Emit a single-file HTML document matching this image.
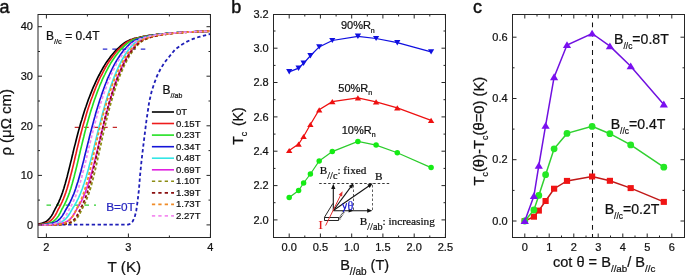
<!DOCTYPE html>
<html><head><meta charset="utf-8"><style>
html,body{margin:0;padding:0;background:#fff;}
svg{display:block;will-change:transform;}
</style></head><body>
<svg width="685" height="275" viewBox="0 0 685 275">
<defs><clipPath id="clipA"><rect x="38.0" y="14.5" width="172.5" height="223.0"/></clipPath></defs>
<rect width="685" height="275" fill="#fff"/>
<text x="-0.6" y="12.6" font-size="18" text-anchor="start" fill="#111" stroke="#111" stroke-width="0.45" style='font-family:"Liberation Sans", sans-serif' >a</text>
<text x="231.3" y="12.6" font-size="18" text-anchor="start" fill="#111" stroke="#111" stroke-width="0.45" style='font-family:"Liberation Sans", sans-serif' >b</text>
<text x="473" y="12.7" font-size="18" text-anchor="start" fill="#111" stroke="#111" stroke-width="0.45" style='font-family:"Liberation Sans", sans-serif' >c</text>
<g clip-path="url(#clipA)">
<path d="M102.8 49.1H145.5" stroke="#2b2bd0" stroke-width="1.2" stroke-dasharray="4.5 5" fill="none"/>
<path d="M74.7 127.3H117" stroke="#c42a2a" stroke-width="1.2" stroke-dasharray="4.5 5" fill="none"/>
<path d="M46.5 205.2H96" stroke="#30d030" stroke-width="1.2" stroke-dasharray="4.5 5" fill="none"/>
<path d="M38.6 224.7L128 224.7L130.6 223.8L132.6 221.5L134.6 217.5L136.2 211L137.5 202L138.9 190L140 176L141.6 160L144 140L146.5 120L149.2 102L151.5 92L154 84L157 76L160.5 69L164.5 62.5L169 57L175 49.6L181 45.1L187 41.6L193 38.9L199 36.9L205 35.3L210.5 34" stroke="#1f1fb8" stroke-width="1.8" fill="none" stroke-dasharray="3.4 2.5" stroke-linejoin="round"/>
<path d="M38.2 224.1L38.9 223.9L39.6 223.8L40.3 223.6L41 223.5L41.7 223.3L42.4 223.1L43 222.9L43.7 222.6L44.4 222.3L45.1 222L45.8 221.6L46.5 221.2L47.2 220.7L47.9 220.1L48.6 219.5L49.2 218.8L49.9 218L50.6 217.1L51.3 216.1L52 215L52.7 213.8L53.3 212.6L54 211.2L54.7 209.9L55.3 208.5L56 207.3L56.7 206.1L57.3 204.8L58 203.5L58.7 202.1L59.3 200.6L60 199.1L60.6 197.5L61.3 195.9L61.9 194.1L62.6 192.2L63.2 190.2L63.9 188.2L64.5 186L65.2 183.8L65.8 181.5L66.5 179.1L67.2 176.5L67.8 173.9L68.5 171.2L69.2 168.4L69.9 165.6L70.6 162.6L71.4 159.6L72.1 156.5L72.9 153.3L73.6 150.1L74.4 146.9L75.3 143.6L76.1 140.2L77 136.8L77.9 133.3L78.8 129.9L79.8 126.5L80.7 123.1L81.8 119.7L82.8 116.3L83.9 112.8L84.9 109.5L86.1 106.2L87.2 102.9L88.3 99.8L89.5 96.7L90.7 93.6L91.9 90.6L93.1 87.7L94.4 84.8L95.6 82.1L96.9 79.4L98.1 76.9L99.4 74.5L100.6 72.1L101.9 69.8L103.2 67.5L104.5 65.4L105.7 63.4L107 61.5L108.3 59.7L109.6 58L110.8 56.3L112.1 54.7L113.4 53.2L114.6 51.8L115.9 50.4L117.2 49.2L118.4 48L119.7 46.8L120.9 45.7L122.2 44.6L123.4 43.6L124.7 42.7L125.9 41.9L127.2 41.2L128.4 40.7L129.7 40.1L130.9 39.6L132.2 39.2L133.4 38.8L134.6 38.4L135.9 38.1L137.1 37.7L138.4 37.5L139.6 37.2L140.8 36.9L142.1 36.7L143.3 36.4L144.5 36.2L145.7 36L147 35.8L148.2 35.6L149.4 35.4L150.7 35.2L151.9 35.1L153.1 34.9L154.3 34.7L155.6 34.6L156.8 34.4L158 34.3L159.2 34.2L160.5 34L161.7 33.9L162.9 33.8L164.1 33.7L165.4 33.5L166.6 33.4L167.8 33.3L169 33.2L170.3 33.1L171.5 33L172.7 32.9L173.9 32.9L175.2 32.8L176.4 32.7L177.6 32.6L178.8 32.6L180.1 32.5L181.3 32.4L182.5 32.4L183.7 32.3L184.9 32.2L186.2 32.2L187.4 32.1L188.6 32.1L189.8 32L191.1 31.9L192.3 31.9L193.5 31.8L194.7 31.8L195.9 31.7L197.2 31.7L198.4 31.6L199.6 31.6L200.8 31.5L202.1 31.5L203.3 31.5L204.5 31.4L205.7 31.4L206.9 31.3L208.2 31.3L209.4 31.3" stroke="#000000" stroke-width="1.65" fill="none"/>
<path d="M38.2 224.5L38.9 224.4L39.6 224.4L40.3 224.3L41 224.2L41.7 224.1L42.4 223.9L43.1 223.8L43.8 223.6L44.5 223.5L45.1 223.3L45.8 223.1L46.5 222.9L47.2 222.6L47.9 222.3L48.6 222L49.3 221.6L49.9 221.2L50.6 220.7L51.3 220.1L52 219.5L52.7 218.8L53.3 218L54 217.1L54.7 216.1L55.4 215L56 213.8L56.7 212.6L57.4 211.2L58 209.9L58.7 208.5L59.4 207.3L60 206.1L60.7 204.8L61.3 203.5L62 202.1L62.6 200.6L63.3 199.1L63.9 197.5L64.6 195.9L65.2 194.1L65.9 192.2L66.5 190.2L67.2 188.2L67.8 186L68.5 183.8L69.1 181.5L69.8 179.1L70.4 176.5L71.1 173.9L71.8 171.2L72.5 168.4L73.2 165.6L73.9 162.6L74.6 159.6L75.3 156.5L76.1 153.3L76.8 150.1L77.6 146.9L78.4 143.6L79.2 140.2L80.1 136.8L81 133.3L81.9 129.9L82.8 126.5L83.8 123.1L84.8 119.7L85.8 116.3L86.8 112.8L87.8 109.5L88.9 106.2L90 102.9L91.1 99.8L92.3 96.7L93.4 93.6L94.6 90.6L95.7 87.7L96.9 84.8L98.1 82.1L99.3 79.4L100.5 76.9L101.8 74.5L103 72.1L104.2 69.8L105.4 67.5L106.7 65.4L107.9 63.4L109.1 61.5L110.3 59.7L111.6 58L112.8 56.3L114 54.7L115.2 53.2L116.4 51.8L117.7 50.4L118.9 49.2L120.1 48L121.3 46.8L122.5 45.7L123.7 44.6L124.9 43.6L126.1 42.7L127.3 41.9L128.5 41.2L129.7 40.7L130.9 40.1L132.1 39.6L133.3 39.2L134.5 38.8L135.7 38.4L136.9 38.1L138.1 37.7L139.3 37.5L140.5 37.2L141.7 36.9L142.9 36.7L144 36.4L145.2 36.2L146.4 36L147.6 35.8L148.8 35.6L150 35.4L151.2 35.2L152.3 35.1L153.5 34.9L154.7 34.7L155.9 34.6L157.1 34.4L158.2 34.3L159.4 34.2L160.6 34L161.8 33.9L163 33.8L164.1 33.7L165.3 33.5L166.5 33.4L167.7 33.3L168.9 33.2L170 33.1L171.2 33L172.4 32.9L173.6 32.9L174.8 32.8L175.9 32.7L177.1 32.6L178.3 32.6L179.5 32.5L180.7 32.4L181.8 32.4L183 32.3L184.2 32.2L185.4 32.2L186.6 32.1L187.7 32.1L188.9 32L190.1 31.9L191.3 31.9L192.4 31.8L193.6 31.8L194.8 31.7L196 31.7L197.2 31.6L198.3 31.6L199.5 31.5L200.7 31.5L201.9 31.5L203.1 31.4L204.2 31.4L205.4 31.3L206.6 31.3L207.8 31.3L208.9 31.2L210.1 31.2" stroke="#ee1c1c" stroke-width="1.65" fill="none"/>
<path d="M38.3 224.8L39 224.8L39.7 224.7L40.4 224.6L41.1 224.6L41.8 224.5L42.5 224.4L43.2 224.4L43.9 224.3L44.6 224.2L45.2 224.1L45.9 223.9L46.6 223.8L47.3 223.6L48 223.5L48.7 223.3L49.4 223.1L50.1 222.9L50.8 222.6L51.5 222.3L52.1 222L52.8 221.6L53.5 221.2L54.2 220.7L54.9 220.1L55.6 219.5L56.2 218.8L56.9 218L57.6 217.1L58.3 216.1L59 215L59.6 213.8L60.3 212.6L61 211.2L61.6 209.9L62.3 208.5L63 207.3L63.6 206.1L64.3 204.8L65 203.5L65.6 202.1L66.3 200.6L66.9 199.1L67.6 197.5L68.3 195.9L68.9 194.1L69.6 192.2L70.2 190.2L70.9 188.2L71.5 186L72.2 183.8L72.8 181.5L73.5 179.1L74.2 176.5L74.8 173.9L75.5 171.2L76.2 168.4L76.9 165.6L77.6 162.6L78.3 159.6L79 156.5L79.8 153.3L80.5 150.1L81.3 146.9L82.1 143.6L82.9 140.2L83.8 136.8L84.6 133.3L85.5 129.9L86.4 126.5L87.4 123.1L88.3 119.7L89.3 116.3L90.3 112.8L91.3 109.5L92.4 106.2L93.4 102.9L94.5 99.8L95.6 96.7L96.7 93.6L97.8 90.6L99 87.7L100.1 84.8L101.3 82.1L102.4 79.4L103.6 76.9L104.8 74.5L105.9 72.1L107.1 69.8L108.3 67.5L109.5 65.4L110.6 63.4L111.8 61.5L113 59.7L114.2 58L115.4 56.3L116.5 54.7L117.7 53.2L118.9 51.8L120 50.4L121.2 49.2L122.4 48L123.6 46.8L124.7 45.7L125.9 44.6L127 43.6L128.2 42.7L129.4 41.9L130.5 41.2L131.7 40.7L132.8 40.1L134 39.6L135.1 39.2L136.3 38.8L137.4 38.4L138.6 38.1L139.7 37.7L140.9 37.5L142 37.2L143.2 36.9L144.3 36.7L145.4 36.4L146.6 36.2L147.7 36L148.9 35.8L150 35.6L151.2 35.4L152.3 35.2L153.4 35.1L154.6 34.9L155.7 34.7L156.9 34.6L158 34.4L159.1 34.3L160.3 34.2L161.4 34L162.5 33.9L163.7 33.8L164.8 33.7L166 33.5L167.1 33.4L168.2 33.3L169.4 33.2L170.5 33.1L171.6 33L172.8 32.9L173.9 32.9L175 32.8L176.2 32.7L177.3 32.6L178.5 32.6L179.6 32.5L180.7 32.4L181.9 32.4L183 32.3L184.1 32.2L185.3 32.2L186.4 32.1L187.5 32.1L188.7 32L189.8 31.9L190.9 31.9L192.1 31.8L193.2 31.8L194.4 31.7L195.5 31.7L196.6 31.6L197.8 31.6L198.9 31.5L200 31.5L201.2 31.5L202.3 31.4L203.4 31.4L204.6 31.3L205.7 31.3L206.8 31.3L208 31.2L209.1 31.2L210.2 31.1" stroke="#22e022" stroke-width="1.65" fill="none"/>
<path d="M38.4 224.9L39.1 224.9L39.8 224.9L40.6 224.8L41.3 224.8L42.1 224.7L42.8 224.6L43.6 224.6L44.3 224.5L45.1 224.4L45.8 224.4L46.6 224.3L47.3 224.2L48 224.1L48.8 223.9L49.5 223.8L50.3 223.6L51 223.5L51.8 223.3L52.5 223.1L53.2 222.9L54 222.6L54.7 222.3L55.5 222L56.2 221.6L56.9 221.2L57.7 220.7L58.4 220.1L59.1 219.5L59.9 218.8L60.6 218L61.4 217.1L62.1 216.1L62.8 215L63.5 213.8L64.3 212.6L65 211.2L65.7 209.9L66.5 208.5L67.2 207.3L67.9 206.1L68.6 204.8L69.4 203.5L70.1 202.1L70.8 200.6L71.5 199.1L72.2 197.5L72.9 195.9L73.7 194.1L74.4 192.2L75.1 190.2L75.8 188.2L76.5 186L77.2 183.8L78 181.5L78.7 179.1L79.4 176.5L80.1 173.9L80.9 171.2L81.6 168.4L82.3 165.6L83.1 162.6L83.9 159.6L84.6 156.5L85.4 153.3L86.2 150.1L87 146.9L87.8 143.6L88.7 140.2L89.5 136.8L90.4 133.3L91.3 129.9L92.2 126.5L93.1 123.1L94 119.7L95 116.3L95.9 112.8L96.9 109.5L97.9 106.2L98.9 102.9L99.9 99.8L101 96.7L102 93.6L103.1 90.6L104.1 87.7L105.2 84.8L106.3 82.1L107.3 79.4L108.4 76.9L109.5 74.5L110.6 72.1L111.7 69.8L112.8 67.5L113.9 65.4L115 63.4L116.1 61.5L117.2 59.7L118.3 58L119.4 56.3L120.4 54.7L121.5 53.2L122.6 51.8L123.7 50.4L124.8 49.2L125.9 48L127 46.8L128.1 45.7L129.1 44.6L130.2 43.6L131.3 42.7L132.4 41.9L133.4 41.2L134.5 40.7L135.6 40.1L136.7 39.6L137.7 39.2L138.8 38.8L139.9 38.4L141 38.1L142 37.7L143.1 37.5L144.2 37.2L145.2 36.9L146.3 36.7L147.4 36.4L148.4 36.2L149.5 36L150.6 35.8L151.6 35.6L152.7 35.4L153.8 35.2L154.8 35.1L155.9 34.9L157 34.7L158 34.6L159.1 34.4L160.2 34.3L161.2 34.2L162.3 34L163.4 33.9L164.4 33.8L165.5 33.7L166.6 33.5L167.6 33.4L168.7 33.3L169.7 33.2L170.8 33.1L171.9 33L172.9 32.9L174 32.9L175.1 32.8L176.1 32.7L177.2 32.6L178.2 32.6L179.3 32.5L180.4 32.4L181.4 32.4L182.5 32.3L183.6 32.2L184.6 32.2L185.7 32.1L186.7 32.1L187.8 32L188.9 31.9L189.9 31.9L191 31.8L192.1 31.8L193.1 31.7L194.2 31.7L195.2 31.6L196.3 31.6L197.4 31.5L198.4 31.5L199.5 31.5L200.6 31.4L201.6 31.4L202.7 31.3L203.7 31.3L204.8 31.3L205.9 31.2L206.9 31.2L208 31.1L209.1 31.1L210.1 31.1" stroke="#1414d8" stroke-width="1.65" fill="none"/>
<path d="M38.5 224.9L43.2 224.9L44 224.9L44.8 224.9L45.5 224.8L46.3 224.8L47.1 224.7L47.9 224.6L48.6 224.6L49.4 224.5L50.2 224.4L51 224.4L51.7 224.3L52.5 224.2L53.3 224.1L54.1 223.9L54.8 223.8L55.6 223.6L56.4 223.5L57.2 223.3L57.9 223.1L58.7 222.9L59.5 222.6L60.3 222.3L61 222L61.8 221.6L62.6 221.2L63.4 220.7L64.1 220.1L64.9 219.5L65.7 218.8L66.4 218L67.2 217.1L68 216.1L68.7 215L69.5 213.8L70.3 212.6L71 211.2L71.8 209.9L72.6 208.5L73.3 207.3L74.1 206.1L74.9 204.8L75.6 203.5L76.4 202.1L77.1 200.6L77.9 199.1L78.7 197.5L79.4 195.9L80.2 194.1L80.9 192.2L81.7 190.2L82.5 188.2L83.2 186L84 183.8L84.7 181.5L85.5 179.1L86.3 176.5L87 173.9L87.8 171.2L88.6 168.4L89.3 165.6L90.1 162.6L90.9 159.6L91.7 156.5L92.5 153.3L93.3 150.1L94.1 146.9L94.9 143.6L95.8 140.2L96.6 136.8L97.5 133.3L98.3 129.9L99.2 126.5L100.1 123.1L101 119.7L101.9 116.3L102.8 112.8L103.7 109.5L104.6 106.2L105.5 102.9L106.5 99.8L107.4 96.7L108.4 93.6L109.4 90.6L110.3 87.7L111.3 84.8L112.3 82.1L113.3 79.4L114.2 76.9L115.2 74.5L116.2 72.1L117.2 69.8L118.2 67.5L119.2 65.4L120.2 63.4L121.2 61.5L122.1 59.7L123.1 58L124.1 56.3L125.1 54.7L126.1 53.2L127.1 51.8L128.1 50.4L129 49.2L130 48L131 46.8L132 45.7L133 44.6L134 43.6L134.9 42.7L135.9 41.9L136.9 41.2L137.9 40.7L138.8 40.1L139.8 39.6L140.8 39.2L141.8 38.8L142.8 38.4L143.7 38.1L144.7 37.7L145.7 37.5L146.6 37.2L147.6 36.9L148.6 36.7L149.6 36.4L150.5 36.2L151.5 36L152.5 35.8L153.5 35.6L154.4 35.4L155.4 35.2L156.4 35.1L157.3 34.9L158.3 34.7L159.3 34.6L160.3 34.4L161.2 34.3L162.2 34.2L163.2 34L164.1 33.9L165.1 33.8L166.1 33.7L167 33.5L168 33.4L169 33.3L170 33.2L170.9 33.1L171.9 33L172.9 32.9L173.8 32.9L174.8 32.8L175.8 32.7L176.7 32.6L177.7 32.6L178.7 32.5L179.7 32.4L180.6 32.4L181.6 32.3L182.6 32.2L183.5 32.2L184.5 32.1L185.5 32.1L186.4 32L187.4 31.9L188.4 31.9L189.3 31.8L190.3 31.8L191.3 31.7L192.3 31.7L193.2 31.6L194.2 31.6L195.2 31.5L196.1 31.5L197.1 31.5L198.1 31.4L199 31.4L200 31.3L201 31.3L201.9 31.3L202.9 31.2L203.9 31.2L204.9 31.1L205.8 31.1L206.8 31.1L207.8 31L208.7 31L209.7 31" stroke="#33e6e6" stroke-width="1.65" fill="none"/>
<path d="M38.5 224.9L48.4 224.9L49.2 224.9L49.9 224.9L50.7 224.8L51.5 224.8L52.2 224.7L53 224.6L53.7 224.6L54.5 224.5L55.2 224.4L56 224.4L56.8 224.3L57.5 224.2L58.3 224.1L59 223.9L59.8 223.8L60.5 223.6L61.3 223.5L62.1 223.3L62.8 223.1L63.6 222.9L64.3 222.6L65.1 222.3L65.8 222L66.6 221.6L67.3 221.2L68.1 220.7L68.9 220.1L69.6 219.5L70.4 218.8L71.1 218L71.9 217.1L72.6 216.1L73.4 215L74.1 213.8L74.9 212.6L75.6 211.2L76.4 209.9L77.1 208.5L77.9 207.3L78.6 206.1L79.3 204.8L80.1 203.5L80.8 202.1L81.6 200.6L82.3 199.1L83.1 197.5L83.8 195.9L84.5 194.1L85.3 192.2L86 190.2L86.8 188.2L87.5 186L88.2 183.8L89 181.5L89.7 179.1L90.5 176.5L91.2 173.9L92 171.2L92.7 168.4L93.5 165.6L94.3 162.6L95 159.6L95.8 156.5L96.6 153.3L97.4 150.1L98.1 146.9L98.9 143.6L99.8 140.2L100.6 136.8L101.4 133.3L102.2 129.9L103.1 126.5L103.9 123.1L104.8 119.7L105.7 116.3L106.6 112.8L107.5 109.5L108.4 106.2L109.3 102.9L110.2 99.8L111.1 96.7L112.1 93.6L113 90.6L113.9 87.7L114.9 84.8L115.8 82.1L116.8 79.4L117.7 76.9L118.7 74.5L119.6 72.1L120.6 69.8L121.6 67.5L122.5 65.4L123.5 63.4L124.4 61.5L125.4 59.7L126.4 58L127.3 56.3L128.3 54.7L129.2 53.2L130.2 51.8L131.1 50.4L132.1 49.2L133.1 48L134 46.8L135 45.7L135.9 44.6L136.9 43.6L137.8 42.7L138.8 41.9L139.7 41.2L140.7 40.7L141.6 40.1L142.6 39.6L143.5 39.2L144.5 38.8L145.4 38.4L146.4 38.1L147.3 37.7L148.2 37.5L149.2 37.2L150.1 36.9L151.1 36.7L152 36.4L153 36.2L153.9 36L154.9 35.8L155.8 35.6L156.7 35.4L157.7 35.2L158.6 35.1L159.6 34.9L160.5 34.7L161.5 34.6L162.4 34.4L163.3 34.3L164.3 34.2L165.2 34L166.2 33.9L167.1 33.8L168.1 33.7L169 33.5L169.9 33.4L170.9 33.3L171.8 33.2L172.8 33.1L173.7 33L174.7 32.9L175.6 32.9L176.5 32.8L177.5 32.7L178.4 32.6L179.4 32.6L180.3 32.5L181.2 32.4L182.2 32.4L183.1 32.3L184.1 32.2L185 32.2L186 32.1L186.9 32.1L187.8 32L188.8 31.9L189.7 31.9L190.7 31.8L191.6 31.8L192.5 31.7L193.5 31.7L194.4 31.6L195.4 31.6L196.3 31.5L197.3 31.5L198.2 31.5L199.1 31.4L200.1 31.4L201 31.3L202 31.3L202.9 31.3L203.8 31.2L204.8 31.2L205.7 31.1L206.7 31.1L207.6 31.1L208.5 31L209.5 31L210.4 31" stroke="#e020e0" stroke-width="1.65" fill="none"/>
<path d="M38.5 224.9L57.5 224.9L58.2 224.9L58.9 224.9L59.5 224.8L60.2 224.8L60.8 224.7L61.5 224.6L62.1 224.6L62.8 224.5L63.4 224.4L64.1 224.4L64.7 224.3L65.4 224.2L66.1 224.1L66.7 223.9L67.4 223.8L68 223.6L68.7 223.5L69.3 223.3L70 223.1L70.6 222.9L71.3 222.6L71.9 222.3L72.6 222L73.2 221.6L73.9 221.2L74.5 220.7L75.2 220.1L75.8 219.5L76.5 218.8L77.1 218L77.8 217.1L78.4 216.1L79.1 215L79.7 213.8L80.3 212.6L81 211.2L81.6 209.9L82.3 208.5L82.9 207.3L83.5 206.1L84.2 204.8L84.8 203.5L85.4 202.1L86.1 200.6L86.7 199.1L87.3 197.5L88 195.9L88.6 194.1L89.2 192.2L89.8 190.2L90.5 188.2L91.1 186L91.7 183.8L92.4 181.5L93 179.1L93.6 176.5L94.3 173.9L94.9 171.2L95.6 168.4L96.2 165.6L96.9 162.6L97.5 159.6L98.2 156.5L98.9 153.3L99.6 150.1L100.3 146.9L101.1 143.6L101.8 140.2L102.5 136.8L103.3 133.3L104.1 129.9L104.9 126.5L105.7 123.1L106.5 119.7L107.4 116.3L108.3 112.8L109.1 109.5L110 106.2L110.9 102.9L111.8 99.8L112.8 96.7L113.7 93.6L114.6 90.6L115.6 87.7L116.5 84.8L117.5 82.1L118.5 79.4L119.4 76.9L120.4 74.5L121.4 72.1L122.4 69.8L123.3 67.5L124.3 65.4L125.3 63.4L126.3 61.5L127.3 59.7L128.2 58L129.2 56.3L130.2 54.7L131.2 53.2L132.2 51.8L133.1 50.4L134.1 49.2L135.1 48L136.1 46.8L137 45.7L138 44.6L139 43.6L139.9 42.7L140.9 41.9L141.9 41.2L142.8 40.7L143.8 40.1L144.8 39.6L145.7 39.2L146.7 38.8L147.6 38.4L148.6 38.1L149.6 37.7L150.5 37.5L151.5 37.2L152.4 36.9L153.4 36.7L154.3 36.4L155.3 36.2L156.3 36L157.2 35.8L158.2 35.6L159.1 35.4L160.1 35.2L161 35.1L162 34.9L162.9 34.7L163.9 34.6L164.8 34.4L165.8 34.3L166.8 34.2L167.7 34L168.7 33.9L169.6 33.8L170.6 33.7L171.5 33.5L172.5 33.4L173.4 33.3L174.4 33.2L175.3 33.1L176.3 33L177.2 32.9L178.2 32.9L179.1 32.8L180.1 32.7L181 32.6L182 32.6L182.9 32.5L183.9 32.4L184.8 32.4L185.8 32.3L186.7 32.2L187.7 32.2L188.6 32.1L189.6 32.1L190.6 32L191.5 31.9L192.5 31.9L193.4 31.8L194.4 31.8L195.3 31.7L196.3 31.7L197.2 31.6L198.2 31.6L199.1 31.5L200.1 31.5L201 31.5L202 31.4L202.9 31.4L203.9 31.3L204.8 31.3L205.8 31.3L206.7 31.2L207.7 31.2L208.6 31.1L209.6 31.1" stroke="#8c8c14" stroke-width="1.8" fill="none" stroke-dasharray="3.0 2.1"/>
<path d="M38.5 224.9L56 224.9L56.7 224.9L57.3 224.9L58 224.8L58.6 224.8L59.3 224.7L59.9 224.6L60.6 224.6L61.2 224.5L61.9 224.4L62.5 224.4L63.2 224.3L63.8 224.2L64.5 224.1L65.1 223.9L65.8 223.8L66.4 223.6L67.1 223.5L67.7 223.3L68.4 223.1L69 222.9L69.7 222.6L70.3 222.3L70.9 222L71.6 221.6L72.2 221.2L72.9 220.7L73.5 220.1L74.2 219.5L74.8 218.8L75.4 218L76.1 217.1L76.7 216.1L77.3 215L78 213.8L78.6 212.6L79.2 211.2L79.9 209.9L80.5 208.5L81.1 207.3L81.8 206.1L82.4 204.8L83 203.5L83.6 202.1L84.3 200.6L84.9 199.1L85.5 197.5L86.1 195.9L86.7 194.1L87.4 192.2L88 190.2L88.6 188.2L89.2 186L89.8 183.8L90.5 181.5L91.1 179.1L91.7 176.5L92.3 173.9L93 171.2L93.6 168.4L94.3 165.6L94.9 162.6L95.6 159.6L96.3 156.5L97 153.3L97.7 150.1L98.4 146.9L99.1 143.6L99.8 140.2L100.6 136.8L101.4 133.3L102.2 129.9L103 126.5L103.8 123.1L104.7 119.7L105.5 116.3L106.4 112.8L107.3 109.5L108.2 106.2L109.1 102.9L110.1 99.8L111 96.7L112 93.6L113 90.6L113.9 87.7L114.9 84.8L115.9 82.1L116.9 79.4L117.9 76.9L118.9 74.5L119.9 72.1L120.9 69.8L121.9 67.5L123 65.4L124 63.4L125 61.5L126 59.7L127 58L128 56.3L129 54.7L130 53.2L131 51.8L132.1 50.4L133.1 49.2L134.1 48L135.1 46.8L136.1 45.7L137.1 44.6L138.1 43.6L139.1 42.7L140.1 41.9L141.1 41.2L142.1 40.7L143 40.1L144 39.6L145 39.2L146 38.8L147 38.4L148 38.1L149 37.7L150 37.5L151 37.2L152 36.9L152.9 36.7L153.9 36.4L154.9 36.2L155.9 36L156.9 35.8L157.9 35.6L158.9 35.4L159.8 35.2L160.8 35.1L161.8 34.9L162.8 34.7L163.8 34.6L164.7 34.4L165.7 34.3L166.7 34.2L167.7 34L168.7 33.9L169.7 33.8L170.6 33.7L171.6 33.5L172.6 33.4L173.6 33.3L174.6 33.2L175.5 33.1L176.5 33L177.5 32.9L178.5 32.9L179.5 32.8L180.4 32.7L181.4 32.6L182.4 32.6L183.4 32.5L184.4 32.4L185.4 32.4L186.3 32.3L187.3 32.2L188.3 32.2L189.3 32.1L190.3 32.1L191.2 32L192.2 31.9L193.2 31.9L194.2 31.8L195.2 31.8L196.1 31.7L197.1 31.7L198.1 31.6L199.1 31.6L200.1 31.5L201 31.5L202 31.5L203 31.4L204 31.4L205 31.3L205.9 31.3L206.9 31.3L207.9 31.2L208.9 31.2L209.9 31.1" stroke="#8a1010" stroke-width="1.8" fill="none" stroke-dasharray="3.0 2.1"/>
<path d="M38.5 224.9L51.4 224.9L52.1 224.9L52.8 224.9L53.5 224.8L54.1 224.8L54.8 224.7L55.5 224.6L56.1 224.6L56.8 224.5L57.5 224.4L58.2 224.4L58.8 224.3L59.5 224.2L60.2 224.1L60.9 223.9L61.5 223.8L62.2 223.6L62.9 223.5L63.5 223.3L64.2 223.1L64.9 222.9L65.6 222.6L66.2 222.3L66.9 222L67.6 221.6L68.2 221.2L68.9 220.7L69.6 220.1L70.2 219.5L70.9 218.8L71.6 218L72.2 217.1L72.9 216.1L73.5 215L74.2 213.8L74.9 212.6L75.5 211.2L76.2 209.9L76.8 208.5L77.5 207.3L78.1 206.1L78.8 204.8L79.4 203.5L80.1 202.1L80.7 200.6L81.4 199.1L82 197.5L82.7 195.9L83.3 194.1L83.9 192.2L84.6 190.2L85.2 188.2L85.9 186L86.5 183.8L87.2 181.5L87.8 179.1L88.5 176.5L89.1 173.9L89.8 171.2L90.4 168.4L91.1 165.6L91.8 162.6L92.5 159.6L93.2 156.5L93.9 153.3L94.6 150.1L95.4 146.9L96.1 143.6L96.9 140.2L97.7 136.8L98.5 133.3L99.3 129.9L100.1 126.5L101 123.1L101.9 119.7L102.7 116.3L103.7 112.8L104.6 109.5L105.5 106.2L106.5 102.9L107.4 99.8L108.4 96.7L109.4 93.6L110.4 90.6L111.4 87.7L112.4 84.8L113.4 82.1L114.5 79.4L115.5 76.9L116.5 74.5L117.6 72.1L118.6 69.8L119.6 67.5L120.7 65.4L121.7 63.4L122.8 61.5L123.8 59.7L124.8 58L125.9 56.3L126.9 54.7L127.9 53.2L129 51.8L130 50.4L131.1 49.2L132.1 48L133.1 46.8L134.1 45.7L135.2 44.6L136.2 43.6L137.2 42.7L138.3 41.9L139.3 41.2L140.3 40.7L141.3 40.1L142.3 39.6L143.4 39.2L144.4 38.8L145.4 38.4L146.4 38.1L147.4 37.7L148.4 37.5L149.5 37.2L150.5 36.9L151.5 36.7L152.5 36.4L153.5 36.2L154.5 36L155.5 35.8L156.6 35.6L157.6 35.4L158.6 35.2L159.6 35.1L160.6 34.9L161.6 34.7L162.6 34.6L163.6 34.4L164.6 34.3L165.7 34.2L166.7 34L167.7 33.9L168.7 33.8L169.7 33.7L170.7 33.5L171.7 33.4L172.7 33.3L173.7 33.2L174.7 33.1L175.7 33L176.7 32.9L177.8 32.9L178.8 32.8L179.8 32.7L180.8 32.6L181.8 32.6L182.8 32.5L183.8 32.4L184.8 32.4L185.8 32.3L186.8 32.2L187.8 32.2L188.8 32.1L189.9 32.1L190.9 32L191.9 31.9L192.9 31.9L193.9 31.8L194.9 31.8L195.9 31.7L196.9 31.7L197.9 31.6L198.9 31.6L199.9 31.5L200.9 31.5L202 31.5L203 31.4L204 31.4L205 31.3L206 31.3L207 31.3L208 31.2L209 31.2L210 31.1" stroke="#f08c28" stroke-width="1.8" fill="none" stroke-dasharray="3.0 2.1"/>
<path d="M38.5 224.9L42.9 224.9L43.6 224.9L44.3 224.9L45.1 224.8L45.8 224.8L46.5 224.7L47.2 224.6L47.9 224.6L48.6 224.5L49.3 224.4L50 224.4L50.7 224.3L51.4 224.2L52.1 224.1L52.8 223.9L53.5 223.8L54.3 223.6L55 223.5L55.7 223.3L56.4 223.1L57.1 222.9L57.8 222.6L58.5 222.3L59.2 222L59.9 221.6L60.6 221.2L61.3 220.7L62 220.1L62.7 219.5L63.4 218.8L64.1 218L64.8 217.1L65.5 216.1L66.2 215L66.9 213.8L67.6 212.6L68.2 211.2L68.9 209.9L69.6 208.5L70.3 207.3L71 206.1L71.7 204.8L72.4 203.5L73 202.1L73.7 200.6L74.4 199.1L75.1 197.5L75.7 195.9L76.4 194.1L77.1 192.2L77.8 190.2L78.5 188.2L79.1 186L79.8 183.8L80.5 181.5L81.2 179.1L81.9 176.5L82.5 173.9L83.2 171.2L83.9 168.4L84.6 165.6L85.4 162.6L86.1 159.6L86.8 156.5L87.6 153.3L88.3 150.1L89.1 146.9L89.9 143.6L90.7 140.2L91.5 136.8L92.4 133.3L93.2 129.9L94.1 126.5L95 123.1L95.9 119.7L96.9 116.3L97.8 112.8L98.8 109.5L99.8 106.2L100.8 102.9L101.8 99.8L102.8 96.7L103.9 93.6L104.9 90.6L106 87.7L107 84.8L108.1 82.1L109.2 79.4L110.3 76.9L111.4 74.5L112.5 72.1L113.5 69.8L114.6 67.5L115.7 65.4L116.8 63.4L117.9 61.5L119 59.7L120.1 58L121.2 56.3L122.3 54.7L123.4 53.2L124.5 51.8L125.6 50.4L126.7 49.2L127.7 48L128.8 46.8L129.9 45.7L131 44.6L132.1 43.6L133.2 42.7L134.2 41.9L135.3 41.2L136.4 40.7L137.5 40.1L138.5 39.6L139.6 39.2L140.7 38.8L141.8 38.4L142.8 38.1L143.9 37.7L145 37.5L146 37.2L147.1 36.9L148.2 36.7L149.2 36.4L150.3 36.2L151.4 36L152.4 35.8L153.5 35.6L154.6 35.4L155.6 35.2L156.7 35.1L157.8 34.9L158.8 34.7L159.9 34.6L160.9 34.4L162 34.3L163.1 34.2L164.1 34L165.2 33.9L166.3 33.8L167.3 33.7L168.4 33.5L169.4 33.4L170.5 33.3L171.6 33.2L172.6 33.1L173.7 33L174.7 32.9L175.8 32.9L176.9 32.8L177.9 32.7L179 32.6L180.1 32.6L181.1 32.5L182.2 32.4L183.2 32.4L184.3 32.3L185.4 32.2L186.4 32.2L187.5 32.1L188.5 32.1L189.6 32L190.7 31.9L191.7 31.9L192.8 31.8L193.8 31.8L194.9 31.7L196 31.7L197 31.6L198.1 31.6L199.1 31.5L200.2 31.5L201.3 31.5L202.3 31.4L203.4 31.4L204.4 31.3L205.5 31.3L206.6 31.3L207.6 31.2L208.7 31.2L209.7 31.1" stroke="#f48cf0" stroke-width="1.8" fill="none" stroke-dasharray="3.0 2.1"/>
</g>
<path d="M151.9 112H174" stroke="#000000" stroke-width="1.6" fill="none"/>
<text x="176" y="114.9" font-size="9.6" text-anchor="start" fill="#111" stroke="#111" stroke-width="0.22" style='font-family:"Liberation Sans", sans-serif' >0T</text>
<path d="M151.9 123.5H174" stroke="#ee1c1c" stroke-width="1.6" fill="none"/>
<text x="176" y="126.5" font-size="9.6" text-anchor="start" fill="#111" stroke="#111" stroke-width="0.22" style='font-family:"Liberation Sans", sans-serif' >0.15T</text>
<path d="M151.9 135.1H174" stroke="#22e022" stroke-width="1.6" fill="none"/>
<text x="176" y="138" font-size="9.6" text-anchor="start" fill="#111" stroke="#111" stroke-width="0.22" style='font-family:"Liberation Sans", sans-serif' >0.23T</text>
<path d="M151.9 146.7H174" stroke="#1414d8" stroke-width="1.6" fill="none"/>
<text x="176" y="149.6" font-size="9.6" text-anchor="start" fill="#111" stroke="#111" stroke-width="0.22" style='font-family:"Liberation Sans", sans-serif' >0.34T</text>
<path d="M151.9 158.2H174" stroke="#33e6e6" stroke-width="1.6" fill="none"/>
<text x="176" y="161.1" font-size="9.6" text-anchor="start" fill="#111" stroke="#111" stroke-width="0.22" style='font-family:"Liberation Sans", sans-serif' >0.48T</text>
<path d="M151.9 169.8H174" stroke="#e020e0" stroke-width="1.6" fill="none"/>
<text x="176" y="172.7" font-size="9.6" text-anchor="start" fill="#111" stroke="#111" stroke-width="0.22" style='font-family:"Liberation Sans", sans-serif' >0.69T</text>
<path d="M151.9 181.3H174" stroke="#8c8c14" stroke-width="1.6" fill="none" stroke-dasharray="3.3 3.1"/>
<text x="176" y="184.2" font-size="9.6" text-anchor="start" fill="#111" stroke="#111" stroke-width="0.22" style='font-family:"Liberation Sans", sans-serif' >1.10T</text>
<path d="M151.9 192.9H174" stroke="#8a1010" stroke-width="1.6" fill="none" stroke-dasharray="3.3 3.1"/>
<text x="176" y="195.8" font-size="9.6" text-anchor="start" fill="#111" stroke="#111" stroke-width="0.22" style='font-family:"Liberation Sans", sans-serif' >1.39T</text>
<path d="M151.9 204.4H174" stroke="#f08c28" stroke-width="1.6" fill="none" stroke-dasharray="3.3 3.1"/>
<text x="176" y="207.3" font-size="9.6" text-anchor="start" fill="#111" stroke="#111" stroke-width="0.22" style='font-family:"Liberation Sans", sans-serif' >1.73T</text>
<path d="M151.9 215.9H174" stroke="#f48cf0" stroke-width="1.6" fill="none" stroke-dasharray="3.3 3.1"/>
<text x="176" y="218.8" font-size="9.6" text-anchor="start" fill="#111" stroke="#111" stroke-width="0.22" style='font-family:"Liberation Sans", sans-serif' >2.27T</text>
<text x="162.6" y="93.6" font-size="12" text-anchor="start" fill="#111" stroke="#111" stroke-width="0.22" style='font-family:"Liberation Sans", sans-serif' >B<tspan font-size="7" dy="4.1">//ab</tspan></text>
<text x="45.9" y="39.8" font-size="12" text-anchor="start" fill="#111" stroke="#111" stroke-width="0.22" style='font-family:"Liberation Sans", sans-serif' >B<tspan font-size="7.5" dy="4.3">//c</tspan><tspan dy="-4.3"> = 0.4T</tspan></text>
<text x="106.2" y="210.5" font-size="11.8" text-anchor="start" fill="#2424c0" stroke="#2424c0" stroke-width="0.22" style='font-family:"Liberation Sans", sans-serif' >B=0T</text>
<path d="M46.4 237.5v-4M46.4 14.5v4M128.4 237.5v-4M128.4 14.5v4M210.4 237.5v-4M210.4 14.5v4M87.4 237.5v-2M87.4 14.5v2M169.4 237.5v-2M169.4 14.5v2M38 224.9h4M210.5 224.9h-4M38 175.4h4M210.5 175.4h-4M38 125.8h4M210.5 125.8h-4M38 76.2h4M210.5 76.2h-4M38 26.7h4M210.5 26.7h-4M38 200.1h2M210.5 200.1h-2M38 150.6h2M210.5 150.6h-2M38 101h2M210.5 101h-2M38 51.5h2M210.5 51.5h-2" stroke="#262626" stroke-width="1" fill="none"/>
<rect x="38" y="14.5" width="172.5" height="223" fill="none" stroke="#262626" stroke-width="1"/>
<text x="33" y="228.6" font-size="11" text-anchor="end" fill="#111" stroke="#111" stroke-width="0.22" style='font-family:"Liberation Sans", sans-serif' >0</text>
<text x="33" y="179.1" font-size="11" text-anchor="end" fill="#111" stroke="#111" stroke-width="0.22" style='font-family:"Liberation Sans", sans-serif' >10</text>
<text x="33" y="129.5" font-size="11" text-anchor="end" fill="#111" stroke="#111" stroke-width="0.22" style='font-family:"Liberation Sans", sans-serif' >20</text>
<text x="33" y="80" font-size="11" text-anchor="end" fill="#111" stroke="#111" stroke-width="0.22" style='font-family:"Liberation Sans", sans-serif' >30</text>
<text x="33" y="30.4" font-size="11" text-anchor="end" fill="#111" stroke="#111" stroke-width="0.22" style='font-family:"Liberation Sans", sans-serif' >40</text>
<text x="46.4" y="250.6" font-size="11" text-anchor="middle" fill="#111" stroke="#111" stroke-width="0.22" style='font-family:"Liberation Sans", sans-serif' >2</text>
<text x="128.4" y="250.6" font-size="11" text-anchor="middle" fill="#111" stroke="#111" stroke-width="0.22" style='font-family:"Liberation Sans", sans-serif' >3</text>
<text x="210.4" y="250.6" font-size="11" text-anchor="middle" fill="#111" stroke="#111" stroke-width="0.22" style='font-family:"Liberation Sans", sans-serif' >4</text>
<text x="107.5" y="271.7" font-size="15.3" text-anchor="start" fill="#111" stroke="#111" stroke-width="0.22" style='font-family:"Liberation Sans", sans-serif' >T (K)</text>
<text transform="translate(10.9 155.6) rotate(-90)" font-size="15" fill="#111" stroke="#111" stroke-width="0.22" style='font-family:"Liberation Sans", sans-serif'>ρ (μΩ cm)</text>
<path d="M289.2 71.8L298.6 68.2L303.6 63.3L310.4 55.8L319.2 46.9L332.3 40.5L357.9 36.3L376.1 38.5L397.3 42.7L431.1 51.9" stroke="#1010e0" stroke-width="1.25" fill="none"/>
<path d="M286.1 69.1H292.3L289.2 74.5Z" fill="#1010e0"/>
<path d="M295.5 65.5H301.7L298.6 70.9Z" fill="#1010e0"/>
<path d="M300.5 60.6H306.7L303.6 66Z" fill="#1010e0"/>
<path d="M307.3 53.1H313.6L310.4 58.4Z" fill="#1010e0"/>
<path d="M316.1 44.2H322.3L319.2 49.5Z" fill="#1010e0"/>
<path d="M329.2 37.9H335.4L332.3 43.1Z" fill="#1010e0"/>
<path d="M354.8 33.6H361.1L357.9 38.9Z" fill="#1010e0"/>
<path d="M373 35.9H379.2L376.1 41.1Z" fill="#1010e0"/>
<path d="M394.2 40.1H400.4L397.3 45.4Z" fill="#1010e0"/>
<path d="M428 49.2H434.2L431.1 54.5Z" fill="#1010e0"/>
<path d="M289.2 150.5L298.6 144.1L303.6 136.5L310.4 124.5L319.2 109.8L332.3 101.6L357.9 97.8L376.1 101.8L397.3 107.8L431.1 120.4" stroke="#ee1010" stroke-width="1.25" fill="none"/>
<path d="M286 153.1H292.4L289.2 147.9Z" fill="#ee1010"/>
<path d="M295.4 146.7H301.8L298.6 141.5Z" fill="#ee1010"/>
<path d="M300.4 139.1H306.8L303.6 133.9Z" fill="#ee1010"/>
<path d="M307.2 127.1H313.6L310.4 121.9Z" fill="#ee1010"/>
<path d="M316 112.4H322.4L319.2 107.2Z" fill="#ee1010"/>
<path d="M329.1 104.2H335.5L332.3 99Z" fill="#ee1010"/>
<path d="M354.8 100.4H361.1L357.9 95.2Z" fill="#ee1010"/>
<path d="M372.9 104.4H379.3L376.1 99.2Z" fill="#ee1010"/>
<path d="M394.1 110.4H400.5L397.3 105.2Z" fill="#ee1010"/>
<path d="M427.9 123H434.3L431.1 117.8Z" fill="#ee1010"/>
<path d="M289.2 197.6L298.6 190.6L303.6 183L310.4 174L319.2 161L332.3 151.6L357.9 141.4L376.1 145.1L397.3 152.7L431.1 167.6" stroke="#2ccc2c" stroke-width="1.2" fill="none"/>
<circle cx="289.2" cy="197.6" r="2.75" fill="#14ec14"/>
<circle cx="298.6" cy="190.6" r="2.75" fill="#14ec14"/>
<circle cx="303.6" cy="183" r="2.75" fill="#14ec14"/>
<circle cx="310.4" cy="174" r="2.75" fill="#14ec14"/>
<circle cx="319.2" cy="161" r="2.75" fill="#14ec14"/>
<circle cx="332.3" cy="151.6" r="2.75" fill="#14ec14"/>
<circle cx="357.9" cy="141.4" r="2.75" fill="#14ec14"/>
<circle cx="376.1" cy="145.1" r="2.75" fill="#14ec14"/>
<circle cx="397.3" cy="152.7" r="2.75" fill="#14ec14"/>
<circle cx="431.1" cy="167.6" r="2.75" fill="#14ec14"/>
<text x="340.9" y="29.1" font-size="11" text-anchor="start" fill="#111" stroke="#111" stroke-width="0.22" style='font-family:"Liberation Sans", sans-serif' >90%R<tspan font-size="7" dy="3.8">n</tspan></text>
<text x="338.3" y="91.6" font-size="11" text-anchor="start" fill="#111" stroke="#111" stroke-width="0.22" style='font-family:"Liberation Sans", sans-serif' >50%R<tspan font-size="7" dy="3.4">n</tspan></text>
<text x="341.7" y="133.5" font-size="11" text-anchor="start" fill="#111" stroke="#111" stroke-width="0.22" style='font-family:"Liberation Sans", sans-serif' >10%R<tspan font-size="7" dy="3.4">n</tspan></text>
<path d="M319.2 183.5H389.5" stroke="#222" stroke-width="0.9" stroke-dasharray="2.5 2" fill="none"/><path d="M353.5 185V210M372.5 185V210" stroke="#444" stroke-width="0.85" stroke-dasharray="2.5 2" fill="none"/><path d="M324.5 217.2L332.9 203.4M324.5 217.5H338.6M324.5 217.2V220.5H338.6V217.2" stroke="#1a1a1a" stroke-width="0.95" fill="none"/><path d="M339.2 219.2L344 211.4" stroke="#333" stroke-width="2.3" stroke-dasharray="0.8 0.75" fill="none"/><path d="M333.3 210.5L333.3 188.2" stroke="#111" stroke-width="1.1" fill="none"/><path d="M333.3 183.8L335.4 189L331.2 189Z" fill="#111"/><path d="M333.3 210.5L351 186.7" stroke="#111" stroke-width="1.1" fill="none"/><path d="M353.6 183.2L352.2 188.6L348.8 186.1Z" fill="#111"/><path d="M333.3 210.5L369.2 185.7" stroke="#111" stroke-width="1.1" fill="none"/><path d="M372.8 183.2L369.7 187.9L367.3 184.4Z" fill="#111"/><path d="M333.3 210.7L368 210.7" stroke="#111" stroke-width="1.1" fill="none"/><path d="M372.4 210.7L367.2 212.8L367.2 208.6Z" fill="#111"/><path d="M353.2 210.7L348.6 208.8V212.6Z" fill="#111"/><path d="M325.6 225.6L340.7 195" stroke="#e23030" stroke-width="1.0" fill="none"/><path d="M342.6 191.2L342.1 196.5L338.7 194.8Z" fill="#e23030"/><path d="M342.4 203.6L344.6 208.6M346.6 203.2Q346 207.5 343.2 212" stroke="#1c1cd0" stroke-width="1.15" fill="none"/>
<text x="347.4" y="209.6" font-size="12.2" text-anchor="start" fill="#1c1cd0" stroke="#1c1cd0" stroke-width="0.22" style='font-family:"Liberation Serif", serif' >θ</text>
<text x="318.6" y="228.6" font-size="12.6" text-anchor="start" fill="#e41a1a" stroke="#e41a1a" stroke-width="0.22" style='font-family:"Liberation Serif", serif' >I</text>
<text x="319.8" y="174.4" font-size="11.2" text-anchor="start" fill="#111" stroke="#111" stroke-width="0.22" style='font-family:"Liberation Serif", serif' >B<tspan font-size="10.2" dy="4.8">//c</tspan><tspan dy="-4.8">: fixed</tspan></text>
<text x="375.1" y="179.5" font-size="11.3" text-anchor="start" fill="#111" stroke="#111" stroke-width="0.22" style='font-family:"Liberation Serif", serif' >B</text>
<text x="359.7" y="224.8" font-size="11.3" text-anchor="start" fill="#111" stroke="#111" stroke-width="0.22" style='font-family:"Liberation Serif", serif' >B<tspan font-size="10.2" dy="5.2">//ab</tspan><tspan dy="-5.2">: increasing</tspan></text>
<path d="M289.2 237.5v-4M289.2 14.5v4M320.4 237.5v-4M320.4 14.5v4M351.7 237.5v-4M351.7 14.5v4M382.9 237.5v-4M382.9 14.5v4M414.2 237.5v-4M414.2 14.5v4M445.4 237.5v-4M445.4 14.5v4M304.8 237.5v-2M304.8 14.5v2M336.1 237.5v-2M336.1 14.5v2M367.3 237.5v-2M367.3 14.5v2M398.6 237.5v-2M398.6 14.5v2M429.8 237.5v-2M429.8 14.5v2M273.5 219.9h4M445.5 219.9h-4M273.5 185.6h4M445.5 185.6h-4M273.5 151.2h4M445.5 151.2h-4M273.5 116.9h4M445.5 116.9h-4M273.5 82.5h4M445.5 82.5h-4M273.5 48.2h4M445.5 48.2h-4M273.5 202.7h2M445.5 202.7h-2M273.5 168.4h2M445.5 168.4h-2M273.5 134.1h2M445.5 134.1h-2M273.5 99.7h2M445.5 99.7h-2M273.5 65.4h2M445.5 65.4h-2M273.5 31h2M445.5 31h-2" stroke="#262626" stroke-width="1" fill="none"/>
<rect x="273.5" y="14.5" width="172" height="223" fill="none" stroke="#262626" stroke-width="1"/>
<text x="268.7" y="223.6" font-size="11" text-anchor="end" fill="#111" stroke="#111" stroke-width="0.22" style='font-family:"Liberation Sans", sans-serif' >2.0</text>
<text x="268.7" y="189.3" font-size="11" text-anchor="end" fill="#111" stroke="#111" stroke-width="0.22" style='font-family:"Liberation Sans", sans-serif' >2.2</text>
<text x="268.7" y="154.9" font-size="11" text-anchor="end" fill="#111" stroke="#111" stroke-width="0.22" style='font-family:"Liberation Sans", sans-serif' >2.4</text>
<text x="268.7" y="120.6" font-size="11" text-anchor="end" fill="#111" stroke="#111" stroke-width="0.22" style='font-family:"Liberation Sans", sans-serif' >2.6</text>
<text x="268.7" y="86.2" font-size="11" text-anchor="end" fill="#111" stroke="#111" stroke-width="0.22" style='font-family:"Liberation Sans", sans-serif' >2.8</text>
<text x="268.7" y="51.9" font-size="11" text-anchor="end" fill="#111" stroke="#111" stroke-width="0.22" style='font-family:"Liberation Sans", sans-serif' >3.0</text>
<text x="268.7" y="17.6" font-size="11" text-anchor="end" fill="#111" stroke="#111" stroke-width="0.22" style='font-family:"Liberation Sans", sans-serif' >3.2</text>
<text x="289.2" y="250.6" font-size="11" text-anchor="middle" fill="#111" stroke="#111" stroke-width="0.22" style='font-family:"Liberation Sans", sans-serif' >0.0</text>
<text x="320.4" y="250.6" font-size="11" text-anchor="middle" fill="#111" stroke="#111" stroke-width="0.22" style='font-family:"Liberation Sans", sans-serif' >0.5</text>
<text x="351.7" y="250.6" font-size="11" text-anchor="middle" fill="#111" stroke="#111" stroke-width="0.22" style='font-family:"Liberation Sans", sans-serif' >1.0</text>
<text x="382.9" y="250.6" font-size="11" text-anchor="middle" fill="#111" stroke="#111" stroke-width="0.22" style='font-family:"Liberation Sans", sans-serif' >1.5</text>
<text x="414.2" y="250.6" font-size="11" text-anchor="middle" fill="#111" stroke="#111" stroke-width="0.22" style='font-family:"Liberation Sans", sans-serif' >2.0</text>
<text x="445.4" y="250.6" font-size="11" text-anchor="middle" fill="#111" stroke="#111" stroke-width="0.22" style='font-family:"Liberation Sans", sans-serif' >2.5</text>
<text x="340.2" y="269.5" font-size="14.5" text-anchor="start" fill="#111" stroke="#111" stroke-width="0.22" style='font-family:"Liberation Sans", sans-serif' >B<tspan font-size="10" dy="5">//ab</tspan><tspan dy="-5"> (T)</tspan></text>
<text transform="translate(242.6 144.8) rotate(-90)" font-size="14" fill="#111" stroke="#111" stroke-width="0.22" style='font-family:"Liberation Sans", sans-serif'>T<tspan font-size="9" dy="4">c</tspan><tspan dy="-4" dx="1.8"> (K)</tspan></text>
<path d="M592.5 14.5V237.5" stroke="#111" stroke-width="1.05" stroke-dasharray="4.8 4.4" stroke-dashoffset="1.2" fill="none"/>
<path d="M524.8 221L533.9 216.7L538.8 210.6L545.6 201L554.1 188.7L567 180.9L592.1 176.5L609.9 180.8L630.7 188.1L663.8 201.9" stroke="#c01818" stroke-width="1.5" fill="none"/>
<rect x="521.6" y="218" width="6.2" height="6.0" fill="#f01414"/>
<rect x="530.8" y="213.7" width="6.2" height="6.0" fill="#f01414"/>
<rect x="535.7" y="207.6" width="6.2" height="6.0" fill="#f01414"/>
<rect x="542.5" y="198" width="6.2" height="6.0" fill="#f01414"/>
<rect x="551" y="185.7" width="6.2" height="6.0" fill="#f01414"/>
<rect x="563.9" y="177.9" width="6.2" height="6.0" fill="#f01414"/>
<rect x="589" y="173.5" width="6.2" height="6.0" fill="#f01414"/>
<rect x="606.8" y="177.8" width="6.2" height="6.0" fill="#f01414"/>
<rect x="627.6" y="185.1" width="6.2" height="6.0" fill="#f01414"/>
<rect x="660.7" y="198.9" width="6.2" height="6.0" fill="#f01414"/>
<path d="M524.8 221L533.9 210L538.8 195.4L545.6 174.7L554.1 148.8L567 133.4L592.1 126.4L609.9 133.7L630.7 144.9L663.8 167.2" stroke="#30d030" stroke-width="1.5" fill="none"/>
<circle cx="524.8" cy="221" r="3.4" fill="#24e824"/>
<circle cx="533.9" cy="210" r="3.4" fill="#24e824"/>
<circle cx="538.8" cy="195.4" r="3.4" fill="#24e824"/>
<circle cx="545.6" cy="174.7" r="3.4" fill="#24e824"/>
<circle cx="554.1" cy="148.8" r="3.4" fill="#24e824"/>
<circle cx="567" cy="133.4" r="3.4" fill="#24e824"/>
<circle cx="592.1" cy="126.4" r="3.4" fill="#24e824"/>
<circle cx="609.9" cy="133.7" r="3.4" fill="#24e824"/>
<circle cx="630.7" cy="144.9" r="3.4" fill="#24e824"/>
<circle cx="663.8" cy="167.2" r="3.4" fill="#24e824"/>
<path d="M524.8 221L533.9 196L538.8 165.7L545.6 125.7L554.1 77.1L567 45L592.1 33.5L609.9 46.2L630.7 66.2L663.8 104.4" stroke="#7010e0" stroke-width="1.5" fill="none"/>
<path d="M520.6 224.1H528.9L524.8 217.2Z" fill="#7a10f0"/>
<path d="M529.8 199.1H538L533.9 192.2Z" fill="#7a10f0"/>
<path d="M534.7 168.8H542.9L538.8 161.9Z" fill="#7a10f0"/>
<path d="M541.5 128.8H549.7L545.6 121.9Z" fill="#7a10f0"/>
<path d="M550 80.2H558.2L554.1 73.3Z" fill="#7a10f0"/>
<path d="M562.9 48.1H571.1L567 41.2Z" fill="#7a10f0"/>
<path d="M588 36.6H596.2L592.1 29.7Z" fill="#7a10f0"/>
<path d="M605.8 49.3H614L609.9 42.4Z" fill="#7a10f0"/>
<path d="M626.6 69.3H634.8L630.7 62.4Z" fill="#7a10f0"/>
<path d="M659.7 107.5H667.9L663.8 100.6Z" fill="#7a10f0"/>
<text x="614.1" y="44.4" font-size="14.1" text-anchor="start" fill="#111" stroke="#111" stroke-width="0.22" style='font-family:"Liberation Sans", sans-serif' >B<tspan font-size="8.4" dy="4.9">//c</tspan><tspan dy="-4.9">=0.8T</tspan></text>
<text x="610.7" y="129.3" font-size="14.1" text-anchor="start" fill="#111" stroke="#111" stroke-width="0.22" style='font-family:"Liberation Sans", sans-serif' >B<tspan font-size="8.4" dy="4.9">//c</tspan><tspan dy="-4.9">=0.4T</tspan></text>
<text x="604.7" y="213.8" font-size="14.1" text-anchor="start" fill="#111" stroke="#111" stroke-width="0.22" style='font-family:"Liberation Sans", sans-serif' >B<tspan font-size="8.4" dy="4.9">//c</tspan><tspan dy="-4.9">=0.2T</tspan></text>
<path d="M524.8 237.5v-4M524.8 14.5v4M549.2 237.5v-4M549.2 14.5v4M573.8 237.5v-4M573.8 14.5v4M598.2 237.5v-4M598.2 14.5v4M622.8 237.5v-4M622.8 14.5v4M647.2 237.5v-4M647.2 14.5v4M671.8 237.5v-4M671.8 14.5v4M537 237.5v-2M537 14.5v2M561.5 237.5v-2M561.5 14.5v2M586 237.5v-2M586 14.5v2M610.5 237.5v-2M610.5 14.5v2M635 237.5v-2M635 14.5v2M659.5 237.5v-2M659.5 14.5v2M512.5 221h4M684.5 221h-4M512.5 159.7h4M684.5 159.7h-4M512.5 98.5h4M684.5 98.5h-4M512.5 37.2h4M684.5 37.2h-4M512.5 190.4h2M684.5 190.4h-2M512.5 129.1h2M684.5 129.1h-2M512.5 67.8h2M684.5 67.8h-2" stroke="#262626" stroke-width="1" fill="none"/>
<rect x="512.5" y="14.5" width="172" height="223" fill="none" stroke="#262626" stroke-width="1"/>
<text x="507.6" y="224.7" font-size="11" text-anchor="end" fill="#111" stroke="#111" stroke-width="0.22" style='font-family:"Liberation Sans", sans-serif' >0.0</text>
<text x="507.6" y="163.4" font-size="11" text-anchor="end" fill="#111" stroke="#111" stroke-width="0.22" style='font-family:"Liberation Sans", sans-serif' >0.2</text>
<text x="507.6" y="102.2" font-size="11" text-anchor="end" fill="#111" stroke="#111" stroke-width="0.22" style='font-family:"Liberation Sans", sans-serif' >0.4</text>
<text x="507.6" y="40.9" font-size="11" text-anchor="end" fill="#111" stroke="#111" stroke-width="0.22" style='font-family:"Liberation Sans", sans-serif' >0.6</text>
<text x="524.8" y="250.6" font-size="11" text-anchor="middle" fill="#111" stroke="#111" stroke-width="0.22" style='font-family:"Liberation Sans", sans-serif' >0</text>
<text x="549.2" y="250.6" font-size="11" text-anchor="middle" fill="#111" stroke="#111" stroke-width="0.22" style='font-family:"Liberation Sans", sans-serif' >1</text>
<text x="573.8" y="250.6" font-size="11" text-anchor="middle" fill="#111" stroke="#111" stroke-width="0.22" style='font-family:"Liberation Sans", sans-serif' >2</text>
<text x="598.2" y="250.6" font-size="11" text-anchor="middle" fill="#111" stroke="#111" stroke-width="0.22" style='font-family:"Liberation Sans", sans-serif' >3</text>
<text x="622.8" y="250.6" font-size="11" text-anchor="middle" fill="#111" stroke="#111" stroke-width="0.22" style='font-family:"Liberation Sans", sans-serif' >4</text>
<text x="647.2" y="250.6" font-size="11" text-anchor="middle" fill="#111" stroke="#111" stroke-width="0.22" style='font-family:"Liberation Sans", sans-serif' >5</text>
<text x="671.8" y="250.6" font-size="11" text-anchor="middle" fill="#111" stroke="#111" stroke-width="0.22" style='font-family:"Liberation Sans", sans-serif' >6</text>
<text x="552.9" y="266.8" font-size="14.6" text-anchor="start" fill="#111" stroke="#111" stroke-width="0.22" style='font-family:"Liberation Sans", sans-serif' >cot θ = B<tspan font-size="9.8" dy="5.2">//ab</tspan><tspan dy="-5.2">/ B</tspan><tspan font-size="9.8" dy="5.2">//c</tspan></text>
<text transform="translate(484.3 185.6) rotate(-90)" font-size="14.8" fill="#111" stroke="#111" stroke-width="0.22" style='font-family:"Liberation Sans", sans-serif'>T<tspan font-size="9" dy="4">c</tspan><tspan dy="-4">(θ)-T</tspan><tspan font-size="9" dy="4">c</tspan><tspan dy="-4">(θ=0) (K)</tspan></text>
</svg>
</body></html>
